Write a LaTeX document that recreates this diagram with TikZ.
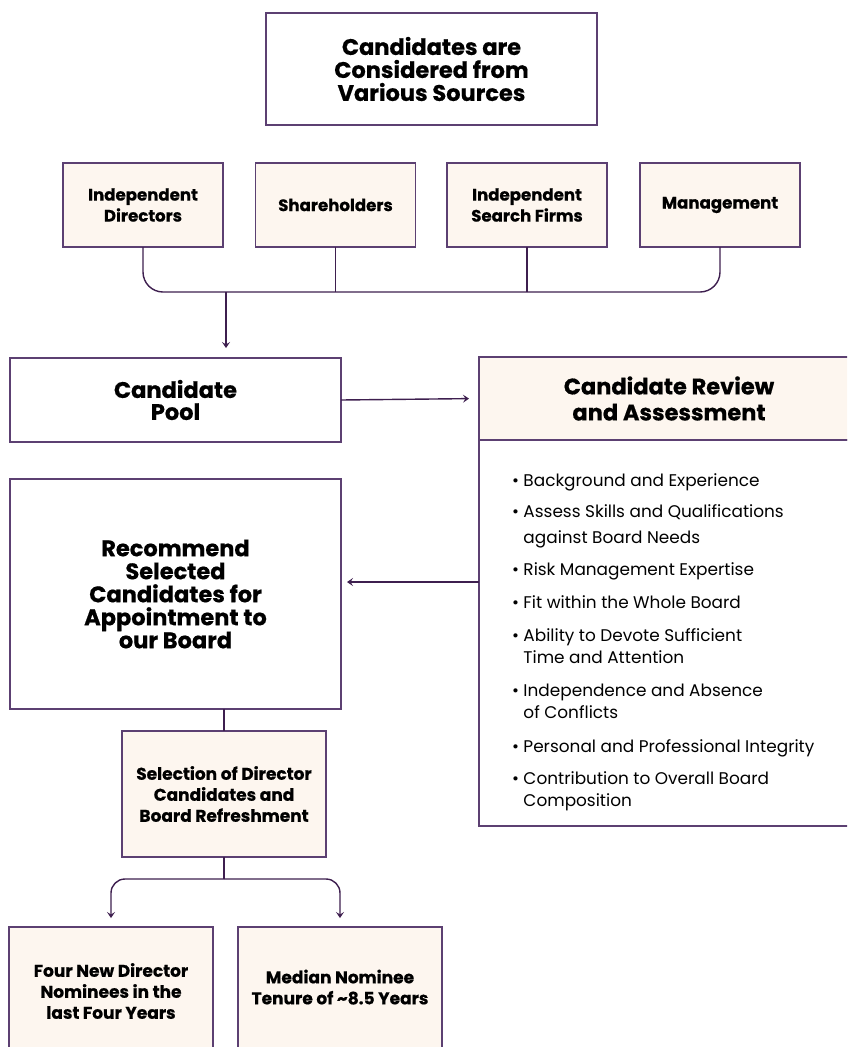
\documentclass[tikz,border=0pt]{standalone}
\usepackage{fontspec}
\setmainfont{Poppins}[BoldFeatures={FakeBold=0.6}]
\definecolor{boardpurple}{RGB}{92,64,114}
\definecolor{arrowpurple}{RGB}{62,31,79}
\definecolor{creambg}{RGB}{253,246,239}
\usetikzlibrary{positioning,arrows.meta,calc}

\begin{document}
\begin{tikzpicture}[x=1pt,y=-1pt,
    every node/.style={inner sep=0pt,outer sep=0pt,align=center},
    box/.style={draw=boardpurple,line width=1.5pt,fill=white,font=\bfseries},
    cream/.style={box,fill=creambg},
    link/.style={draw=arrowpurple,line width=1.4pt},
    arr/.style={link,-{Stealth[length=6pt,width=8pt,inset=2.5pt]}}]
      \clip (0,0) rectangle (847,1047);
      \node[box,minimum width=331pt,minimum height=112pt,font=\bfseries\fontsize{22.5}{23}\selectfont] (top) at (431.5,69)
        {Candidates are\\Considered from\\Various Sources};
      \node[cream,minimum width=160pt,minimum height=84pt,font=\bfseries\fontsize{16.6}{21}\selectfont] (src1) at (143,205) {Independent\\Directors};
      \node[cream,minimum width=160pt,minimum height=84pt,font=\bfseries\fontsize{16.6}{21}\selectfont] (src2) at (335.5,205) {Shareholders};
      \node[cream,minimum width=160pt,minimum height=84pt,font=\bfseries\fontsize{16.6}{21}\selectfont] (src3) at (527,205) {Independent\\Search Firms};
      \node[cream,minimum width=160pt,minimum height=84pt,font=\bfseries\fontsize{16.6}{21}\selectfont] (src4) at (720,205) {Management};
      \coordinate (bar) at (226,292);
      \draw[link,rounded corners=20pt] (src1.south) -- (src1.south |- bar) -| (src4.south);
      \draw[link] (src2.south) -- (src2.south |- bar);
      \draw[link] (src3.south) -- (src3.south |- bar);
      \node[box,minimum width=331pt,minimum height=84pt,font=\bfseries\fontsize{22.5}{22}\selectfont] (pool) at (175.5,400) {Candidate\\Pool};
      \draw[arr,shorten >=10pt] (bar) -- (bar |- pool.north);
      \node[cream,minimum width=380pt,minimum height=83pt,font=\bfseries\fontsize{22.5}{26}\selectfont] (revhead) at (669,398.5)
        {Candidate Review\\and Assessment};
      \node[box,minimum width=380pt,minimum height=386pt,anchor=north] (revbody) at (revhead.south) {};
      \node[anchor=north west,align=left,font=\fontsize{16.9}{22}\selectfont] (crit) at (512,474)
        {• Background and Experience\\[9pt]
         • Assess Skills and Qualifications\\[4pt]
         \phantom{• }against Board Needs\\[10pt]
         • Risk Management Expertise\\[11pt]
         • Fit within the Whole Board\\[11pt]
         • Ability to Devote Sufficient\\
         \phantom{• }Time and Attention\\[11pt]
         • Independence and Absence\\
         \phantom{• }of Conflicts\\[12pt]
         • Personal and Professional Integrity\\[10pt]
         • Contribution to Overall Board\\
         \phantom{• }Composition};
      \draw[arr,shorten >=10pt] (pool.east) -- (revhead.west);
      \node[box,minimum width=331pt,minimum height=230pt,font=\bfseries\fontsize{22.5}{23}\selectfont] (rec) at (175.5,594)
        {Recommend\\Selected\\Candidates for\\Appointment to\\our Board};
      \draw[arr,shorten >=6pt] (revbody.west |- 0,582) -- (rec.east |- 0,582);
      \node[cream,minimum width=204pt,minimum height=126pt,font=\bfseries\fontsize{17}{21}\selectfont] (sel) at (224,794)
        {Selection of Director\\Candidates and\\Board Refreshment};
      \draw[link] (sel.north) -- (sel.north |- rec.south);
      \node[cream,minimum width=204pt,minimum height=128pt,font=\bfseries\fontsize{17}{21}\selectfont] (newdir) at (111,991)
        {Four New Director\\Nominees in the\\last Four Years};
      \node[cream,minimum width=204pt,minimum height=128pt,font=\bfseries\fontsize{17}{21}\selectfont] (tenure) at (340,991)
        {Median Nominee\\Tenure of \textasciitilde 8.5 Years\\[-13pt]\mbox{}};
      \draw[link] (sel.south) -- ++(0,22) coordinate (fork);
      \draw[arr,rounded corners=14pt,shorten >=9pt] (fork) -| (newdir.north);
      \draw[arr,rounded corners=14pt,shorten >=9pt] (fork) -| (tenure.north);
\end{tikzpicture}
\end{document}
